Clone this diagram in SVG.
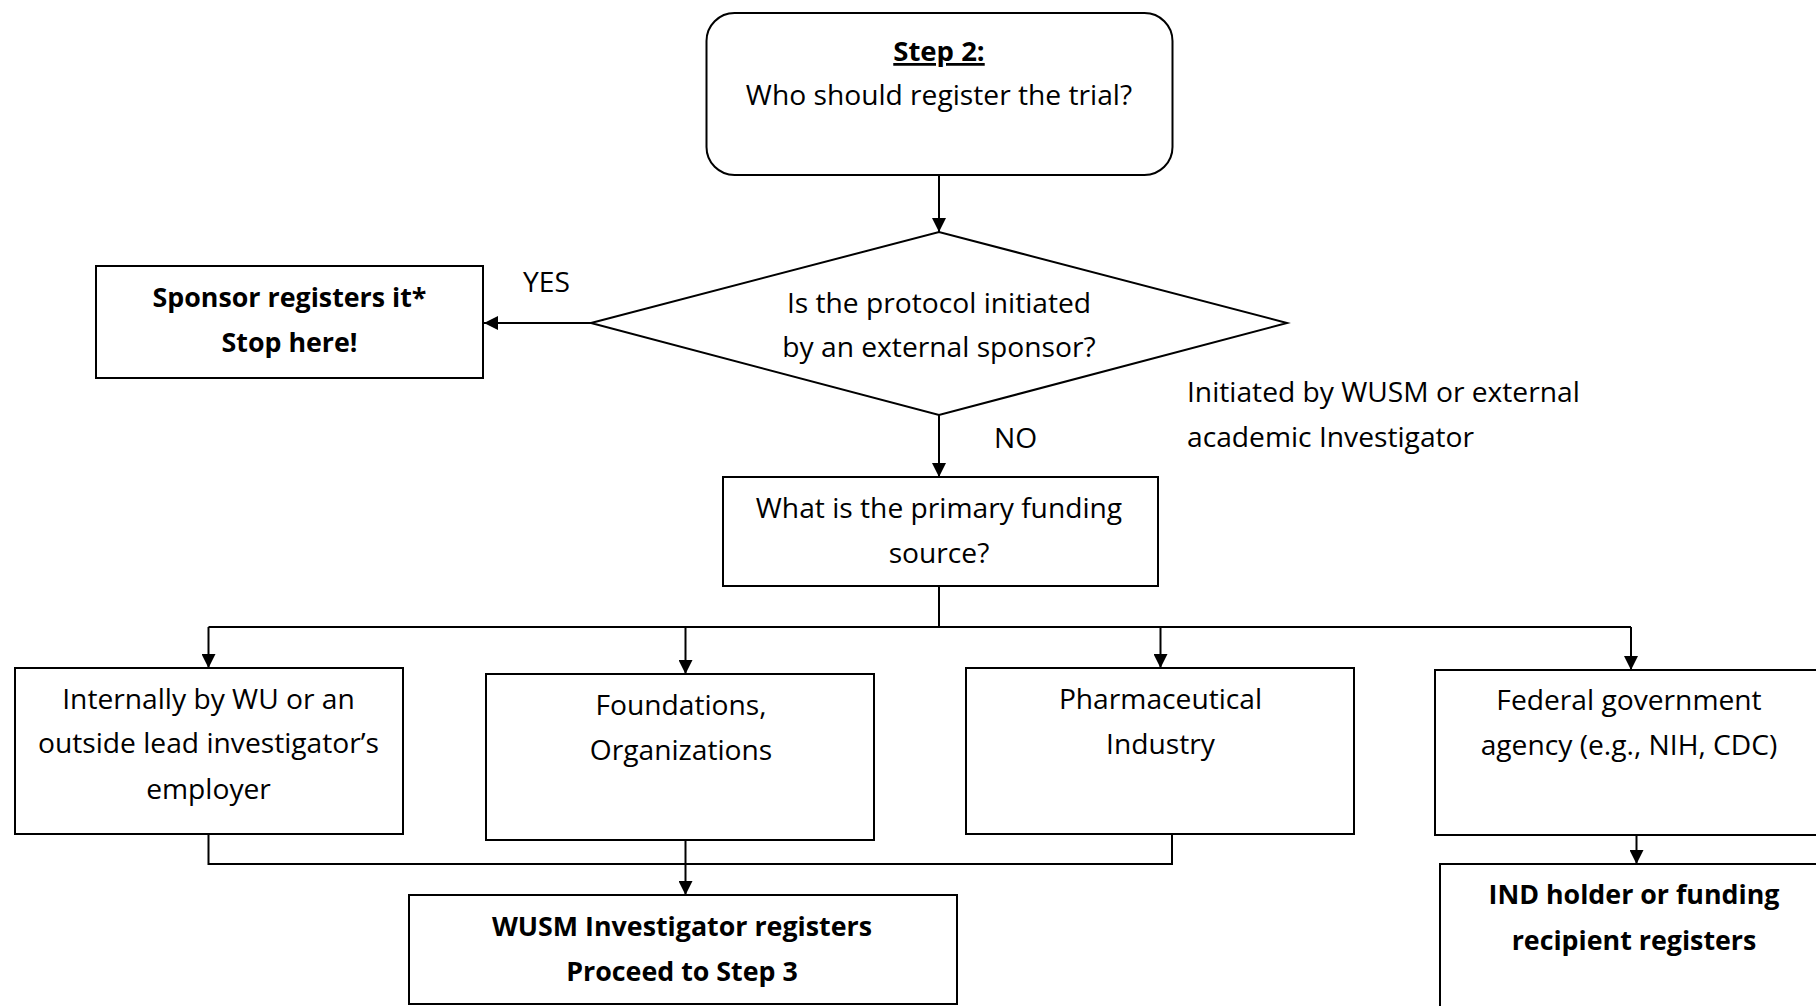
<svg xmlns="http://www.w3.org/2000/svg" width="1816" height="1006" viewBox="0 0 1816 1006">
<style>
.box{fill:#fff;stroke:#000;stroke-width:2}
.ln{fill:none;stroke:#000;stroke-width:2}
text{font-family:"Open Sans","Noto Sans",sans-serif;font-size:28.2px;fill:#000}
.c{text-anchor:middle}
.b{font-weight:bold;font-size:26.8px}
</style>
<defs>
<marker id="ah" markerUnits="userSpaceOnUse" markerWidth="15" markerHeight="14" refX="14" refY="7" orient="auto">
<path d="M0,0 L14,7 L0,14 Z" fill="#000"/>
</marker>
</defs>
<rect width="1816" height="1006" fill="#fff"/>
<g id="connectors">
<line class="ln" x1="939" y1="175" x2="939" y2="232" marker-end="url(#ah)"/>
<line class="ln" x1="591" y1="323" x2="484" y2="323" marker-end="url(#ah)"/>
<line class="ln" x1="939" y1="415" x2="939" y2="477" marker-end="url(#ah)"/>
<line class="ln" x1="939" y1="586" x2="939" y2="627"/>
<line class="ln" x1="208.5" y1="627" x2="1631" y2="627"/>
<line class="ln" x1="208.5" y1="627" x2="208.5" y2="668" marker-end="url(#ah)"/>
<line class="ln" x1="685.5" y1="627" x2="685.5" y2="674" marker-end="url(#ah)"/>
<line class="ln" x1="1160.5" y1="627" x2="1160.5" y2="668" marker-end="url(#ah)"/>
<line class="ln" x1="1631" y1="627" x2="1631" y2="670" marker-end="url(#ah)"/>
<polyline class="ln" points="208.5,834 208.5,864 1172,864 1172,834"/>
<line class="ln" x1="685.5" y1="840" x2="685.5" y2="895" marker-end="url(#ah)"/>
<line class="ln" x1="1636.5" y1="835" x2="1636.5" y2="864" marker-end="url(#ah)"/>
</g>
<g id="n-step2">
<rect class="box" x="706.5" y="13" width="466" height="162" rx="28"/>
<text class="c b" x="939" y="61" text-decoration="underline" style="font-size:27.5px">Step 2:</text>
<text class="c" x="939" y="105">Who should register the trial?</text>
</g>
<g id="n-decision">
<polygon class="box" points="591,323 939,232 1287,323 939,415"/>
<text class="c" x="939" y="313">Is the protocol initiated</text>
<text class="c" x="939" y="357">by an external sponsor?</text>
</g>
<g id="n-sponsor">
<rect class="box" x="96" y="266" width="387" height="112"/>
<text class="c b" x="289.5" y="307">Sponsor registers it*</text>
<text class="c b" x="289.5" y="352">Stop here!</text>
</g>
<g id="labels">
<text x="523" y="292">YES</text>
<text x="994" y="448">NO</text>
<text x="1187" y="402">Initiated by WUSM or external</text>
<text x="1187" y="447">academic Investigator</text>
</g>
<g id="n-funding">
<rect class="box" x="723" y="477" width="435" height="109"/>
<text class="c" x="939" y="518">What is the primary funding</text>
<text class="c" x="939" y="563">source?</text>
</g>
<g id="n-internal">
<rect class="box" x="15" y="668" width="388" height="166"/>
<text class="c" x="208.5" y="709">Internally by WU or an</text>
<text class="c" x="208.5" y="753">outside lead investigator’s</text>
<text class="c" x="208.5" y="799">employer</text>
</g>
<g id="n-foundations">
<rect class="box" x="486" y="674" width="388" height="166"/>
<text class="c" x="681" y="715">Foundations,</text>
<text class="c" x="681" y="760">Organizations</text>
</g>
<g id="n-pharma">
<rect class="box" x="966" y="668" width="388" height="166"/>
<text class="c" x="1160.5" y="709">Pharmaceutical</text>
<text class="c" x="1160.5" y="754">Industry</text>
</g>
<g id="n-federal">
<rect class="box" x="1435" y="670" width="390" height="165"/>
<text class="c" x="1629" y="710">Federal government</text>
<text class="c" x="1629" y="755">agency (e.g., NIH, CDC)</text>
</g>
<g id="n-wusm">
<rect class="box" x="409" y="895" width="548" height="109"/>
<text class="c b" x="682" y="936">WUSM Investigator registers</text>
<text class="c b" x="682" y="981">Proceed to Step 3</text>
</g>
<g id="n-ind">
<rect class="box" x="1440" y="864" width="390" height="160"/>
<text class="c b" x="1634" y="904">IND holder or funding</text>
<text class="c b" x="1634" y="950">recipient registers</text>
</g>
</svg>
